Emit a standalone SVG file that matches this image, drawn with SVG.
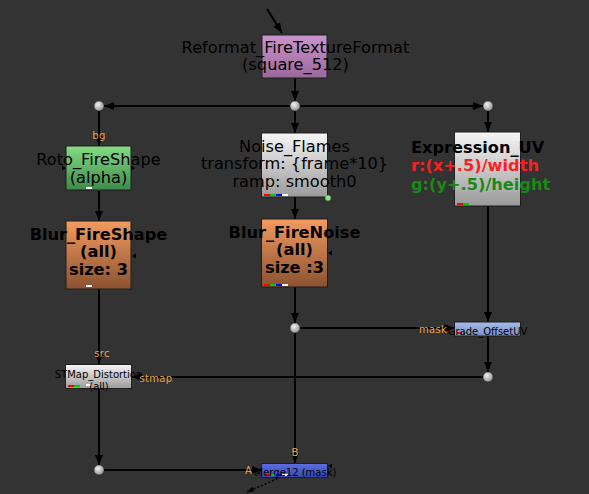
<svg xmlns="http://www.w3.org/2000/svg" width="589" height="494" viewBox="0 0 589 494">
<style>
.node{stroke:#1e1e1e;stroke-width:1}
.lbl{font-family:"DejaVu Sans",Verdana,sans-serif;font-size:16.2px;fill:#000;text-anchor:middle}
.bold{font-weight:bold}
.sm{font-family:"DejaVu Sans",Verdana,sans-serif;font-size:10px;fill:#000;text-anchor:middle}
.inp{font-family:"DejaVu Sans",Verdana,sans-serif;font-size:10px;fill:#e6a243;text-anchor:middle;letter-spacing:0.3px}
.wire{stroke:#000;stroke-width:2;fill:none}
.dot{fill:url(#gDot);stroke:#2a2a2a;stroke-width:0.5}
</style>
<defs>
<marker id="arr" viewBox="0 0 10 8" markerWidth="10" markerHeight="8" refX="10" refY="4" orient="auto" markerUnits="userSpaceOnUse"><path d="M0,0 L10,4 L0,8 z" fill="#000"/></marker>
<marker id="arrS" viewBox="0 0 8 6" markerWidth="7" markerHeight="6" refX="8" refY="3" orient="auto" markerUnits="userSpaceOnUse"><path d="M0,0 L8,3 L0,6 z" fill="#000"/></marker>
<linearGradient id="gPur" x1="0" y1="0" x2="0" y2="1"><stop offset="0" stop-color="#cc94cc"/><stop offset="1" stop-color="#9a689a"/></linearGradient>
<linearGradient id="gGrn" x1="0" y1="0" x2="0" y2="1"><stop offset="0" stop-color="#84dc84"/><stop offset="1" stop-color="#3e8a4a"/></linearGradient>
<linearGradient id="gOrg" x1="0" y1="0" x2="0" y2="1"><stop offset="0" stop-color="#f39a60"/><stop offset="1" stop-color="#8a5230"/></linearGradient>
<linearGradient id="gGry" x1="0" y1="0" x2="0" y2="1"><stop offset="0" stop-color="#f6f6f6"/><stop offset="1" stop-color="#9a9a9a"/></linearGradient>
<linearGradient id="gBlu" x1="0" y1="0" x2="0" y2="1"><stop offset="0" stop-color="#a8bcea"/><stop offset="1" stop-color="#7890c8"/></linearGradient>
<linearGradient id="gMrg" x1="0" y1="0" x2="0" y2="1"><stop offset="0" stop-color="#5c6ee0"/><stop offset="1" stop-color="#3848b0"/></linearGradient>
<radialGradient id="gDot" cx="0.4" cy="0.35" r="0.7"><stop offset="0" stop-color="#f2f2f2"/><stop offset="1" stop-color="#8c8c8c"/></radialGradient>
</defs>
<rect width="589" height="494" fill="#333333"/>

<g id="connectors">
<line class="wire" x1="267" y1="9" x2="282" y2="33" marker-end="url(#arr)"/>
<line class="wire" x1="295" y1="78" x2="295" y2="101" marker-end="url(#arr)"/>
<line class="wire" x1="290" y1="106" x2="104" y2="106" marker-end="url(#arr)"/>
<line class="wire" x1="300" y1="106" x2="483" y2="106" marker-end="url(#arr)"/>
<line class="wire" x1="99" y1="111" x2="99" y2="146" marker-end="url(#arr)"/>
<line class="wire" x1="295" y1="111" x2="295" y2="133" marker-end="url(#arr)"/>
<line class="wire" x1="488" y1="111" x2="488" y2="132" marker-end="url(#arr)"/>
<line class="wire" x1="99" y1="191" x2="99" y2="221" marker-end="url(#arr)"/>
<line class="wire" x1="295" y1="197" x2="295" y2="219" marker-end="url(#arr)"/>
<line class="wire" x1="99" y1="289" x2="99" y2="364" marker-end="url(#arr)"/>
<line class="wire" x1="295" y1="287" x2="295" y2="323" marker-end="url(#arr)"/>
<line class="wire" x1="300" y1="328" x2="454" y2="328" marker-end="url(#arr)"/>
<line class="wire" x1="488" y1="206" x2="488" y2="322" marker-end="url(#arr)"/>
<line class="wire" x1="488" y1="336" x2="488" y2="372" marker-end="url(#arr)"/>
<line class="wire" x1="483" y1="377" x2="132" y2="377" marker-end="url(#arr)"/>
<line class="wire" x1="99" y1="389" x2="99" y2="465" marker-end="url(#arr)"/>
<line class="wire" x1="104" y1="470" x2="262" y2="470" marker-end="url(#arr)"/>
<line class="wire" x1="295" y1="333" x2="295" y2="463" marker-end="url(#arr)"/>
<line x1="281" y1="477" x2="247" y2="492" stroke="#000" stroke-width="1.5" stroke-dasharray="2,2" marker-end="url(#arrS)"/>
<circle class="dot" cx="295" cy="106" r="5"/>
<circle class="dot" cx="99" cy="106" r="5"/>
<circle class="dot" cx="488" cy="106" r="5"/>
<circle class="dot" cx="295" cy="328" r="5"/>
<circle class="dot" cx="488" cy="377" r="5"/>
<circle class="dot" cx="99" cy="470" r="5"/>
</g>

<g id="Reformat_FireTextureFormat">
<rect class="node" x="262" y="35" width="65" height="43" fill="url(#gPur)"/>
<text class="lbl" x="295.5" y="53">Reformat_FireTextureFormat</text>
<text class="lbl" x="295.5" y="70">(square_512)</text>
</g>

<g id="Roto_FireShape">
<rect class="node" x="66" y="146" width="65" height="44" fill="url(#gGrn)"/>
<text class="lbl" x="98.5" y="165">Roto_FireShape</text>
<text class="lbl" x="98.5" y="183">(alpha)</text>
<rect x="86" y="187" width="6" height="2" fill="#fff"/>
<path d="M66,168 l-4,-2.5 v5 z M135,168 l-4,-2.5 v5 z" fill="#000"/>
</g>

<g id="Blur_FireShape">
<rect class="node" x="66" y="221" width="65" height="68" fill="url(#gOrg)"/>
<text class="lbl bold" x="98.5" y="240">Blur_FireShape</text>
<text class="lbl bold" x="98.5" y="257">(all)</text>
<text class="lbl bold" x="98.5" y="275">size: 3</text>
<rect x="86" y="285" width="6" height="2" fill="#fff"/>
<path d="M132,256 l4,-2.5 v5 z" fill="#000"/>
</g>

<g id="Noise_Flames">
<rect class="node" x="261.5" y="133" width="66" height="64" fill="url(#gGry)"/>
<text class="lbl" x="294.5" y="151.5">Noise_Flames</text>
<text class="lbl" x="294.5" y="169">transform: {frame*10}</text>
<text class="lbl" x="294.5" y="186.5">ramp: smooth0</text>
<rect x="264" y="194" width="6" height="2" fill="#f00"/>
<rect x="270" y="194" width="6" height="2" fill="#0c0"/>
<rect x="276" y="194" width="6" height="2" fill="#00f"/>
<rect x="282" y="194" width="6" height="2" fill="#fff"/>
<circle cx="328" cy="198" r="2.8" fill="#8ee88e" stroke="#4a9a4a" stroke-width="0.6"/>
</g>

<g id="Blur_FireNoise">
<rect class="node" x="261.5" y="219" width="66" height="68" fill="url(#gOrg)"/>
<text class="lbl bold" x="294.5" y="238">Blur_FireNoise</text>
<text class="lbl bold" x="294.5" y="255">(all)</text>
<text class="lbl bold" x="294.5" y="273">size :3</text>
<rect x="264" y="284" width="6" height="2" fill="#f00"/>
<rect x="270" y="284" width="6" height="2" fill="#0c0"/>
<rect x="276" y="284" width="6" height="2" fill="#00f"/>
<rect x="282" y="284" width="6" height="2" fill="#fff"/>
<path d="M328,253 l4,-2.5 v5 z" fill="#000"/>
</g>

<g id="Expression_UV">
<rect class="node" x="454.5" y="132" width="66" height="74" fill="url(#gGry)"/>
<text class="lbl bold" x="411" y="153" style="text-anchor:start">Expression_UV</text>
<text class="lbl bold" x="411" y="171" style="text-anchor:start;fill:#ff1e1e">r:(x+.5)/width</text>
<text class="lbl bold" x="411" y="190" style="text-anchor:start;fill:#178a17">g:(y+.5)/height</text>
<rect x="457" y="203" width="6" height="2" fill="#f00"/>
<rect x="463" y="203" width="6" height="2" fill="#0c0"/>
</g>

<g id="Grade_OffsetUV">
<rect class="node" x="454.5" y="322" width="66" height="14" fill="url(#gBlu)"/>
<rect x="457" y="332" width="5" height="2" fill="#f00"/>
<rect x="463" y="332" width="5" height="2" fill="#0c0"/>
<text class="sm" x="487.5" y="335">Grade_OffsetUV</text>
</g>

<g id="STMap_Distortion">
<rect class="node" x="65.5" y="364.5" width="66" height="24" fill="url(#gGry)"/>
<rect x="68" y="385" width="6" height="2" fill="#f00"/>
<rect x="74" y="385" width="6" height="2" fill="#0c0"/>
<rect x="86" y="384" width="5" height="2" fill="#fff"/>
<text class="sm" x="98.5" y="377.5">STMap_Distortion</text>
<text class="sm" x="99" y="390">(all)</text>
</g>

<g id="Merge12">
<rect class="node" x="261.5" y="463.5" width="66" height="14" fill="url(#gMrg)"/>
<rect x="265" y="474" width="5" height="2" fill="#f00"/>
<rect x="270" y="474" width="6" height="2" fill="#0c0"/>
<rect x="276" y="474" width="6" height="2" fill="#00f"/>
<rect x="282" y="474" width="6" height="2" fill="#fff"/>
<text class="sm" x="295.5" y="476">Merge12 (mask)</text>
<path d="M328,466 l4,-2.5 v5 z" fill="#000"/>
</g>

<g id="input-labels">
<text class="inp" x="99" y="139">bg</text>
<text class="inp" x="102" y="357">src</text>
<text class="inp" x="156" y="382">stmap</text>
<text class="inp" x="433" y="333">mask</text>
<text class="inp" x="248.5" y="474">A</text>
<text class="inp" x="295" y="456">B</text>
</g>
</svg>
